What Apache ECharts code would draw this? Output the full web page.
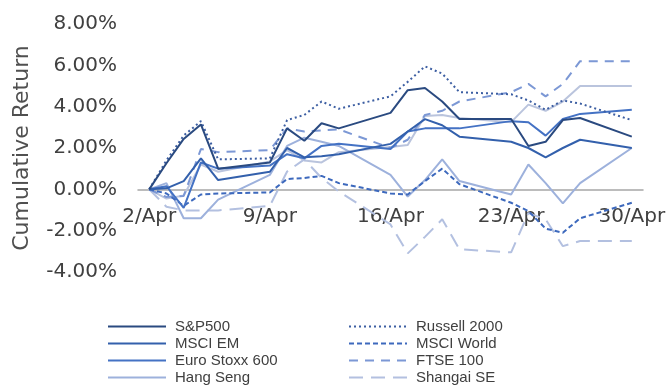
<!DOCTYPE html>
<html>
<head>
<meta charset="utf-8">
<script src="https://cdn.jsdelivr.net/npm/echarts@6/dist/echarts.min.js"></script>
<style>
  html, body { margin: 0; padding: 0; background: #fff; }
  #chart { width: 670px; height: 385px; }
</style>
</head>
<body>
<div id="chart"></div>
<script>
// Trading days in April (day of month)
const days = [2, 3, 4, 5, 6, 9, 10, 11, 12, 13, 16, 17, 18, 19, 20, 23, 24, 25, 26, 27, 30];
const xTickDays = [2, 9, 16, 23, 30];
const yTicks = [-4, -2, 0, 2, 4, 6, 8];

// Cumulative return (%) since 2 April
const sp500     = [0, 1.26, 2.44, 3.14, 1.0, 1.3, 2.95, 2.35, 3.2, 2.95, 3.7, 4.8, 4.9, 4.25, 3.4, 3.4, 2.1, 2.3, 3.35, 3.45, 2.55];
const russell   = [0, 1.4, 2.6, 3.3, 1.45, 1.5, 3.35, 3.6, 4.25, 3.9, 4.5, 5.2, 5.95, 5.6, 4.7, 4.6, 4.3, 3.85, 4.3, 4.15, 3.35];
const msciEM    = [0, 0.05, 0.4, 1.5, 0.45, 0.85, 2.0, 1.55, 1.6, 1.7, 2.2, 2.8, 3.4, 3.1, 2.55, 2.3, 2.0, 1.55, 2.0, 2.4, 2.0];
const msciWorld = [0, -0.2, -0.8, -0.25, -0.2, -0.15, 0.5, 0.55, 0.65, 0.3, -0.2, -0.25, 0.4, 1.0, 0.25, -0.65, -1.05, -1.9, -2.1, -1.4, -0.65];
const euroStoxx = [0, 0.15, -0.9, 1.3, 1.0, 1.15, 1.7, 1.5, 2.1, 2.2, 1.95, 2.8, 2.95, 2.95, 2.95, 3.3, 3.25, 2.6, 3.4, 3.65, 3.85];
const ftse100   = [0, -0.37, -0.32, 1.95, 1.8, 1.9, 2.95, 2.8, 2.85, 2.9, 2.0, 2.4, 3.6, 3.8, 4.25, 4.7, 5.1, 4.5, 5.1, 6.2, 6.2];
const hangSeng  = [0, 0.3, -1.4, -1.4, -0.5, 0.7, 2.1, 2.5, 2.3, 2.1, 0.7, -0.35, 0.45, 1.45, 0.4, -0.25, 1.2, 0.3, -0.68, 0.3, 2.0];
const shanghai  = [0, -0.84, -1.02, -1.02, -1.02, -0.8, 0.86, 1.45, 0.55, -0.1, -1.7, -3.1, -2.3, -1.45, -2.9, -3.05, -1.15, -1.45, -2.75, -2.5, -2.5];
const nikkei    = [0, -0.45, -0.3, 1.2, 0.85, 1.35, 1.9, 1.4, 1.3, 1.8, 2.05, 2.15, 3.55, 3.6, 3.45, 3.25, 4.1, 3.8, 4.25, 5.0, 5.0];

const firstDay = days[0];
const pairs = vals => vals.map((v, i) => [days[i] - firstDay, v]);

function line(name, vals, color, type, width) {
  return {
    name: name,
    type: 'line',
    data: pairs(vals),
    symbol: 'none',
    smooth: false,
    lineStyle: { color: color, width: width || 2, type: type || 'solid', cap: 'butt' },
    itemStyle: { color: color },
    emphasis: { disabled: true }
  };
}

// grid geometry: plot spans y = 24 .. 272, the date axis sits on the 0% line
const gridTop = 24, gridBottom = 113, chartH = 385;
const plotH = chartH - gridTop - gridBottom;
const zeroOffset = plotH * (0 - yTicks[0]) / (yTicks[yTicks.length - 1] - yTicks[0]);

const legendText = { color: '#404040', fontSize: 15, fontFamily: "'Liberation Sans', Arial, sans-serif", lineHeight: 17, padding: [0, 0, 0, 4] };
const legendCommon = {
  orient: 'vertical', top: 318, height: 120, padding: 0,
  itemWidth: 58, itemHeight: 10, itemGap: 0,
  itemStyle: { opacity: 0 },
  textStyle: legendText
};

const option = {
  animation: false,
  backgroundColor: '#ffffff',
  grid: { left: 138, right: 27, top: gridTop, bottom: gridBottom, containLabel: false },
  xAxis: {
    type: 'value',
    min: -0.65,
    max: 28.65,
    offset: -zeroOffset,
    axisLine: { onZero: false, lineStyle: { color: '#A6A6A6', width: 1.5 } },
    axisTick: { show: false },
    splitLine: { show: false },
    axisLabel: {
      customValues: xTickDays.map(d => d - firstDay),
      formatter: v => (Math.round(v) + firstDay) + '/Apr',
      color: '#404040',
      fontSize: 20,
      fontFamily: "'DejaVu Sans', sans-serif",
      margin: 17
    }
  },
  yAxis: {
    type: 'value',
    min: yTicks[0],
    max: yTicks[yTicks.length - 1],
    interval: 2,
    name: 'Cumulative Return',
    nameLocation: 'middle',
    nameGap: 105,
    nameTextStyle: { color: '#505050', fontSize: 22, fontFamily: "'DejaVu Sans', sans-serif" },
    axisLine: { show: false },
    axisTick: { show: false },
    splitLine: { show: false },
    axisLabel: {
      formatter: v => v.toFixed(2) + '%',
      color: '#404040',
      fontSize: 20,
      fontFamily: "'DejaVu Sans', sans-serif",
      margin: 21
    }
  },
  legend: [
    Object.assign({}, legendCommon, { left: 107, data: ['S&P500', 'MSCI EM', 'Euro Stoxx 600', 'Hang Seng'] }),
    Object.assign({}, legendCommon, { left: 348, data: ['Russell 2000', 'MSCI World', 'FTSE 100', 'Shangai SE'] })
  ],
  series: [
    line('Nikkei 225', nikkei, '#BAC4DD'),
    line('Shangai SE', shanghai, '#B3C0E0', [14, 8]),
    line('Hang Seng', hangSeng, '#9DB1DC'),
    line('FTSE 100', ftse100, '#7C98D5', [9, 7]),
    line('MSCI World', msciWorld, '#3D69BD', [5, 3]),
    line('Euro Stoxx 600', euroStoxx, '#4472C4'),
    line('MSCI EM', msciEM, '#3360AC'),
    line('Russell 2000', russell, '#3C5EA2', [2, 3]),
    line('S&P500', sp500, '#2A4A80')
  ]
};

const chart = echarts.init(document.getElementById('chart'), null, { renderer: 'canvas' });
chart.setOption(option);
</script>
</body>
</html>
